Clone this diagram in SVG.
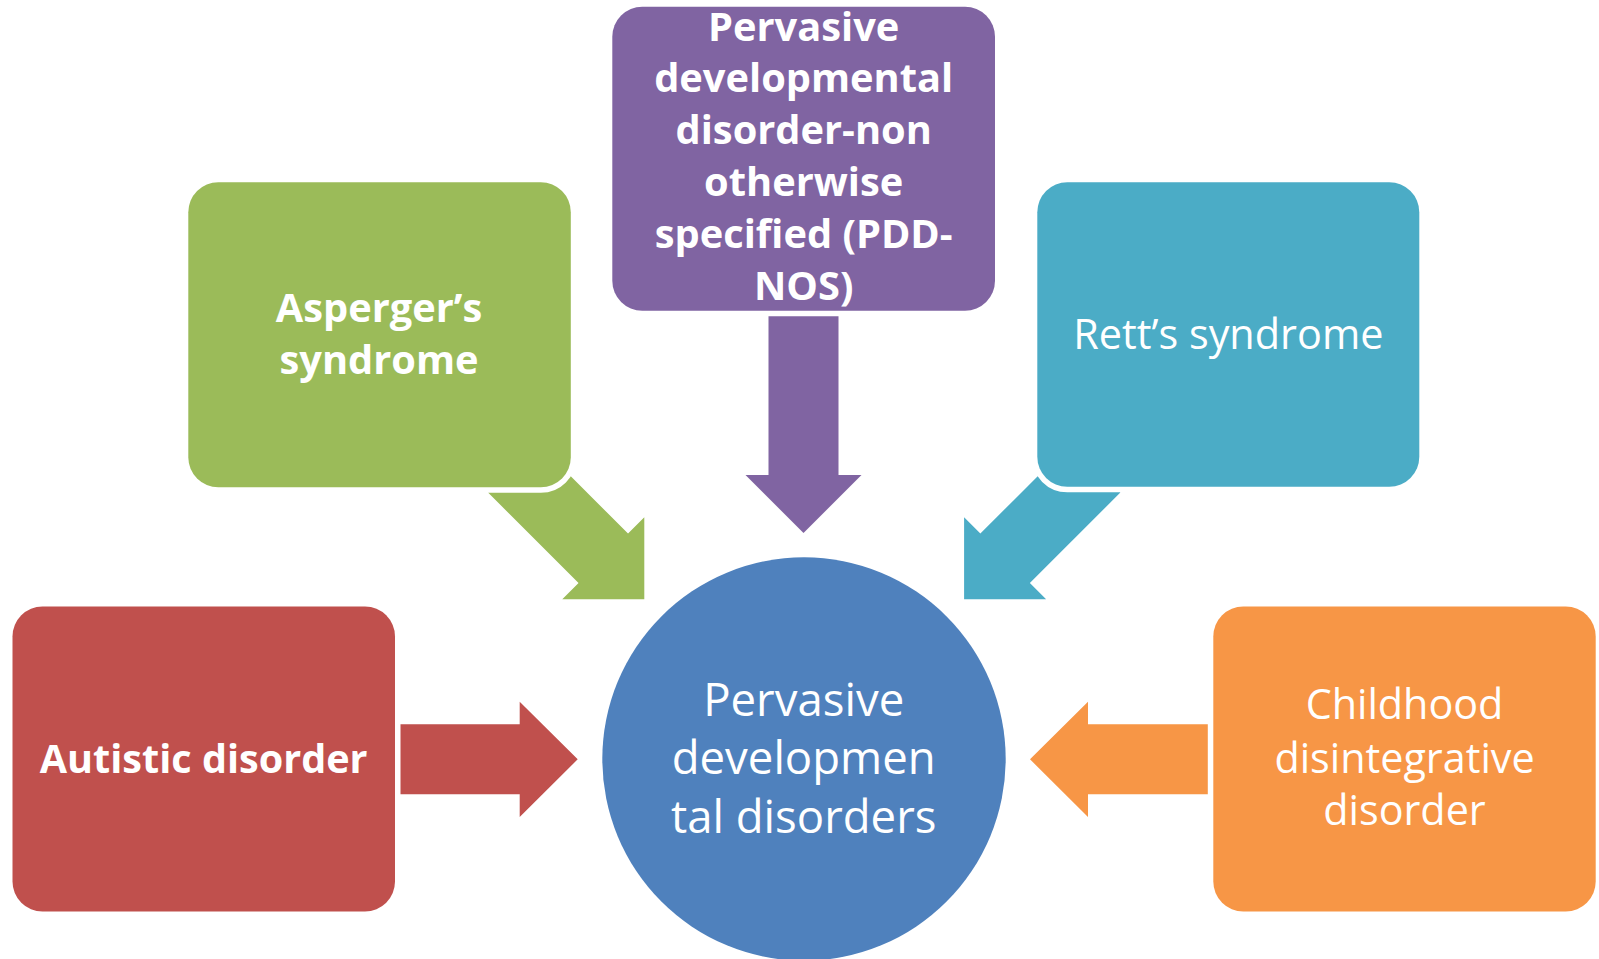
<svg xmlns="http://www.w3.org/2000/svg" width="1599" height="959" viewBox="0 0 1599 959">
<style>
  .box { stroke: #FFFFFF; stroke-width: 11; paint-order: stroke; }
  .txt { fill: #FFFFFF; font-family: "Open Sans", "Liberation Sans", sans-serif; text-anchor: middle; }
  .b { font-weight: bold; }
  .red { fill: #C0504D; }
  .green { fill: #9BBB59; }
  .purple { fill: #8064A2; }
  .teal { fill: #4BACC6; }
  .orange { fill: #F79646; }
  .blue { fill: #4F81BD; }
</style>
<rect width="1599" height="959" fill="#FFFFFF"/>
<g id="connectors">
  <path class="red" d="M398,724.3 H519.7 V701.7 L577.7,759.3 L519.7,816.9 V794.3 H398 Z"/>
  <path class="orange" d="M1210,724.3 H1088 V701.7 L1030,759.3 L1088,816.9 V794.3 H1210 Z"/>
  <path class="purple" d="M768.5,313 V475 H745.5 L803.5,533 L861.5,475 H838.5 V313 Z"/>
  <path class="green" transform="translate(644.3,599.3) rotate(45)" d="M-186,-35 H-58 V-58 L0,0 L-58,58 V35 H-186 Z"/>
  <path class="teal" transform="translate(964.1,599.3) rotate(135)" d="M-186,-35 H-58 V-58 L0,0 L-58,58 V35 H-186 Z"/>
</g>
<g id="node-center">
  <circle class="blue" cx="804" cy="759" r="201.7" stroke="#FFFFFF" stroke-width="4" paint-order="stroke"/>
  <text class="txt" font-size="45.5"><tspan x="803.7" y="715.5">Pervasive</tspan><tspan x="803.7" y="774">developmen</tspan><tspan x="803.7" y="832.5">tal disorders</tspan></text>
</g>
<g id="node-autistic">
  <rect class="box red" x="12.5" y="606.5" width="382.5" height="305" rx="30"/>
  <text class="txt b" font-size="39.6" x="203.7" y="772.7">Autistic disorder</text>
</g>
<g id="node-asperger">
  <rect class="box green" x="188.3" y="182.3" width="382.5" height="305" rx="30"/>
  <text class="txt b" font-size="39.8"><tspan x="379" y="321.7">Asperger’s</tspan><tspan x="379" y="374.3">syndrome</tspan></text>
</g>
<g id="node-pddnos">
  <rect class="box purple" x="612.3" y="6.7" width="382.7" height="304" rx="30"/>
  <text class="txt b" font-size="39.8"><tspan x="803.7" y="40.5">Pervasive</tspan><tspan x="803.7" y="92.4">developmental</tspan><tspan x="803.7" y="144.3">disorder-non</tspan><tspan x="803.7" y="196.2">otherwise</tspan><tspan x="803.7" y="248.1">specified (PDD-</tspan><tspan x="803.7" y="300">NOS)</tspan></text>
</g>
<g id="node-rett">
  <rect class="box teal" x="1037.3" y="182.3" width="382" height="304.5" rx="30"/>
  <text class="txt" font-size="41.4" x="1228.3" y="349">Rett’s syndrome</text>
</g>
<g id="node-cdd">
  <rect class="box orange" x="1213.3" y="606.5" width="382.4" height="305" rx="30"/>
  <text class="txt" font-size="41.3"><tspan x="1404.5" y="719.3">Childhood</tspan><tspan x="1404.5" y="772.7">disintegrative</tspan><tspan x="1404.5" y="825">disorder</tspan></text>
</g>
</svg>
